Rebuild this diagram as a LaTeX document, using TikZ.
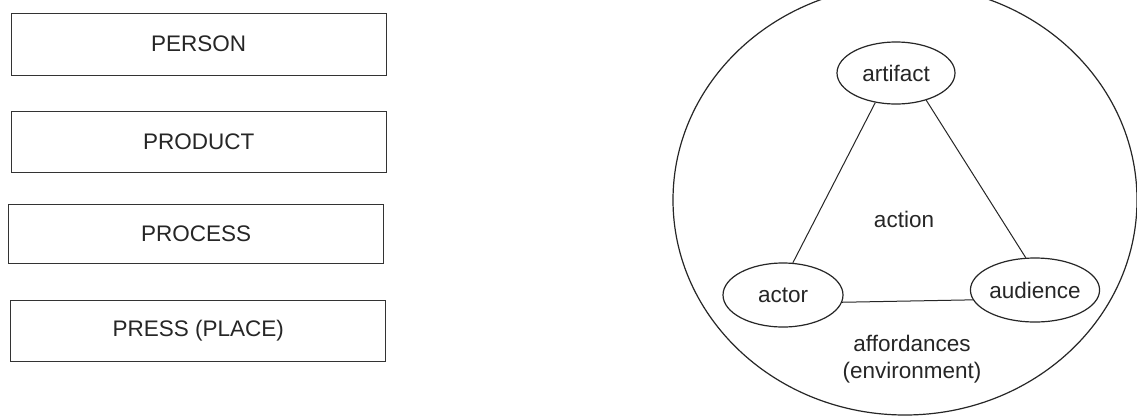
\documentclass[tikz,border=0pt]{standalone}
\usepackage{fontspec}
\setmainfont{Liberation Sans}
\usetikzlibrary{shapes.geometric}
\begin{document}
\begin{tikzpicture}[x=1pt,y=-1pt,
  lbl/.style={font=\fontsize{22.5}{27}\selectfont, text=black!85},
  pbox/.style={lbl, draw=black!80, line width=1.3pt, minimum width=375pt, minimum height=62pt, inner sep=0pt, anchor=north west},
  oval/.style={lbl, draw=black!85, line width=1.2pt, ellipse, inner sep=0pt, minimum width=118pt, minimum height=62pt},
  link/.style={draw=black!85, line width=1pt}]
\useasboundingbox (0,0) rectangle (1137,416);
\fill[white] (0,0) rectangle (1137,416);
% left boxes
\node[pbox] (person) at (10.5,12.5) {PERSON};
\node[pbox, minimum height=61pt] (product) at (10.5,111) {PRODUCT};
\node[pbox, minimum height=59pt] (process) at (8,204) {PROCESS};
\node[pbox, minimum height=61pt] (press) at (10,300) {PRESS (PLACE)};
% environment
\draw[draw=black!85, line width=1.2pt] (905,200) ellipse [x radius=232, y radius=215];
\node[oval] (art) at (896,73) {artifact};
\node[oval, minimum width=120pt, minimum height=64pt] (act) at (783,295) {actor};
\node[oval, minimum height=64pt] (aud) at (1035,290) {audience};
\draw[link] (art.235) -- (act.73);
\draw[link] (art.318) -- (aud.106);
\draw[link] (act.353) -- (aud.189);
\node[lbl] (action) at (904,219) {action};
\node[lbl, align=center] (afford) at (912,359) {affordances\\(environment)};
\end{tikzpicture}
\end{document}
